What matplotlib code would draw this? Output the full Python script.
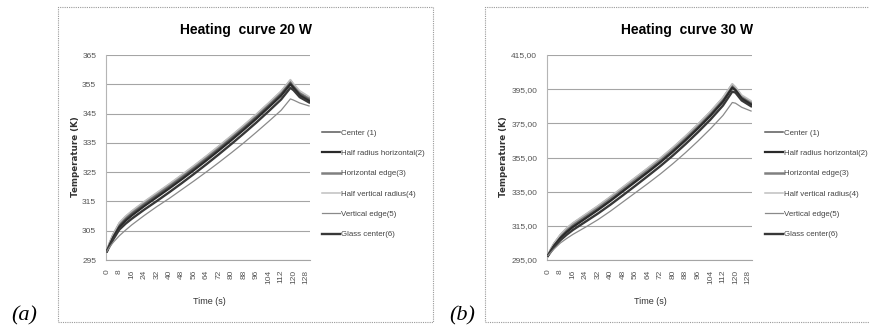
import matplotlib.pyplot as plt
import matplotlib.patches as mpatches

# time (s)
time = [0, 2, 4, 8, 12, 16, 24, 32, 40, 48, 56, 64, 72, 80, 88, 96, 104, 112, 118, 120, 124, 130]

labels = ['Center (1)', 'Half radius horizontal(2)', 'Horizontal edge(3)',
          'Half vertical radius(4)', 'Vertical edge(5)', 'Glass center(6)']

# 20 W
center_20 = [298.0, 300.6, 303.0, 306.8, 309.0, 310.8, 314.0, 317.0, 320.0, 323.1, 326.3, 329.6, 333.0, 336.5, 340.1, 343.8, 347.7, 351.7, 355.6, 354.2, 351.8, 349.8]
half_rad_h_20 = [298.0, 300.4, 302.6, 306.2, 308.4, 310.2, 313.4, 316.4, 319.4, 322.5, 325.7, 329.0, 332.4, 335.9, 339.5, 343.2, 347.1, 351.1, 355.0, 353.8, 351.2, 349.3]
hor_edge_20 = [298.0, 301.0, 303.5, 307.4, 309.6, 311.4, 314.6, 317.6, 320.6, 323.7, 326.9, 330.2, 333.6, 337.1, 340.7, 344.4, 348.3, 352.3, 356.2, 354.6, 352.0, 350.2]
half_vert_20 = [298.0, 301.2, 303.8, 307.8, 310.0, 311.8, 315.0, 318.0, 321.0, 324.1, 327.3, 330.6, 334.0, 337.5, 341.1, 344.8, 348.7, 352.7, 356.6, 355.2, 352.8, 350.8]
vert_edge_20 = [298.0, 299.6, 301.0, 303.3, 305.2, 307.0, 310.2, 313.2, 316.0, 319.0, 322.0, 325.1, 328.3, 331.6, 335.0, 338.6, 342.3, 346.1, 350.0, 349.6, 348.6, 347.6]
glass_20 = [298.0, 300.0, 302.0, 305.4, 307.4, 309.1, 312.2, 315.1, 318.1, 321.2, 324.4, 327.7, 331.1, 334.6, 338.2, 341.9, 345.8, 349.8, 353.8, 353.0, 350.6, 348.8]

# 30 W
center_30 = [297.5, 300.8, 303.8, 308.4, 312.0, 315.0, 320.0, 325.0, 330.3, 335.9, 341.5, 347.1, 352.9, 359.1, 365.7, 372.7, 380.1, 388.3, 396.4, 394.8, 390.0, 386.6]
half_rad_h_30 = [297.5, 300.6, 303.4, 307.8, 311.3, 314.3, 319.3, 324.3, 329.6, 335.2, 340.8, 346.4, 352.2, 358.4, 365.0, 372.0, 379.4, 387.6, 395.8, 394.4, 389.4, 386.0]
hor_edge_30 = [297.5, 301.3, 304.5, 309.4, 313.2, 316.2, 321.2, 326.2, 331.6, 337.2, 342.8, 348.4, 354.2, 360.4, 367.0, 374.0, 381.4, 389.6, 397.6, 395.6, 390.6, 387.2]
half_vert_30 = [297.5, 301.6, 304.9, 310.0, 313.8, 316.8, 321.8, 326.8, 332.2, 337.8, 343.4, 349.0, 354.8, 361.0, 367.6, 374.6, 382.0, 390.2, 398.2, 396.4, 391.6, 388.2]
vert_edge_30 = [297.5, 299.5, 301.5, 305.0, 307.6, 310.0, 314.2, 318.6, 323.6, 329.0, 334.4, 339.8, 345.4, 351.4, 357.8, 364.6, 371.8, 379.6, 387.2, 386.8, 384.4, 382.2]
glass_30 = [297.5, 300.0, 302.6, 306.6, 309.8, 312.6, 317.4, 322.2, 327.4, 332.9, 338.5, 344.2, 350.0, 356.2, 362.8, 369.8, 377.2, 385.4, 393.6, 393.0, 388.4, 385.0]

xticks = list(range(0, 129, 8))
yticks_20 = [295, 305, 315, 325, 335, 345, 355, 365]
yticks_30 = [295, 315, 335, 355, 375, 395, 415]

colors = ['#5a5a5a', '#2a2a2a', '#808080', '#c0c0c0', '#8a8a8a', '#383838']
widths = [1.1, 1.6, 1.8, 1.1, 0.9, 1.7]
# drawing order: back to front
order = [2, 3, 0, 1, 5, 4]

sans = ['Liberation Sans', 'DejaVu Sans']
W, H = 869, 331

fig = plt.figure(figsize=(W / 100, H / 100), dpi=100)


def px(x, y):
    return x / W, 1 - y / H


def panel(series, yticks, ylabels, title, tag, ox, axl, axr, lx, tagx, ylx):
    # chart frame
    fx, fy = px(ox, 322)
    fig.patches.append(mpatches.Rectangle((fx, fy), (440 if ox > 400 else 375) / W, 315 / H,
                                          transform=fig.transFigure, fill=False,
                                          edgecolor='#9a9a9a', lw=0.8, ls=(0, (1, 1))))
    l, b = px(axl, 260)
    ax = fig.add_axes([l, b, (axr - axl) / W, 205 / H])
    lines = []
    for i in range(6):
        ln, = ax.plot(time, series[i], color=colors[i], lw=widths[i], label=labels[i],
                      zorder=3 + order.index(i))
        lines.append(ln)
    ax.set_xlim(-0.6, 130.6)
    ax.set_ylim(yticks[0], yticks[-1])
    ax.set_yticks(yticks)
    ax.set_yticklabels(ylabels, fontsize=6, color='#555555', family=sans)
    ax.set_xticks(xticks)
    ax.set_xticklabels([str(v) for v in xticks], rotation=90, fontsize=6,
                       color='#555555', family=sans)
    ax.tick_params(axis='both', length=0, pad=7)
    ax.yaxis.grid(True, color='#a5a5a5', lw=0.8)
    ax.set_axisbelow(True)
    for s in ['top', 'right']:
        ax.spines[s].set_visible(False)
    ax.spines['left'].set_color('#b5b5b5')
    ax.spines['left'].set_linestyle((0, (1, 1)))
    ax.spines['bottom'].set_color('#a5a5a5')

    cx = (axl + axr) / 2
    fig.text(*px(cx + 38, 30), title, ha='center', va='center', fontsize=10,
             fontweight='bold', family=sans)
    fig.text(*px(ylx, 157), 'Temperature (K)', rotation=90, ha='center', va='center',
             fontsize=6.3, fontweight='bold', color='#333333')
    fig.text(*px(cx + 1, 302), 'Time (s)', ha='center', va='center', fontsize=6.5,
             color='#333333', family=sans)
    fig.text(*px(tagx, 316), tag, ha='center', va='center', fontsize=16,
             style='italic', family=['Liberation Serif', 'DejaVu Serif'])

    fig.legend(lines, labels, loc='upper left', bbox_to_anchor=px(lx, 129),
               frameon=False, prop={'family': sans, 'size': 5.7}, labelcolor='#444444',
               handlelength=2.3, handletextpad=0.15, labelspacing=1.62,
               borderpad=0, borderaxespad=0)


panel([center_20, half_rad_h_20, hor_edge_20, half_vert_20, vert_edge_20, glass_20],
      yticks_20, [str(v) for v in yticks_20], 'Heating  curve 20 W', '(a)',
      58, 106, 310, 322, 24, 75)
panel([center_30, half_rad_h_30, hor_edge_30, half_vert_30, vert_edge_30, glass_30],
      yticks_30, [f'{v},00' for v in yticks_30], 'Heating  curve 30 W', '(b)',
      485, 547, 752, 765, 462, 503)

plt.savefig('out.png', dpi=100)
